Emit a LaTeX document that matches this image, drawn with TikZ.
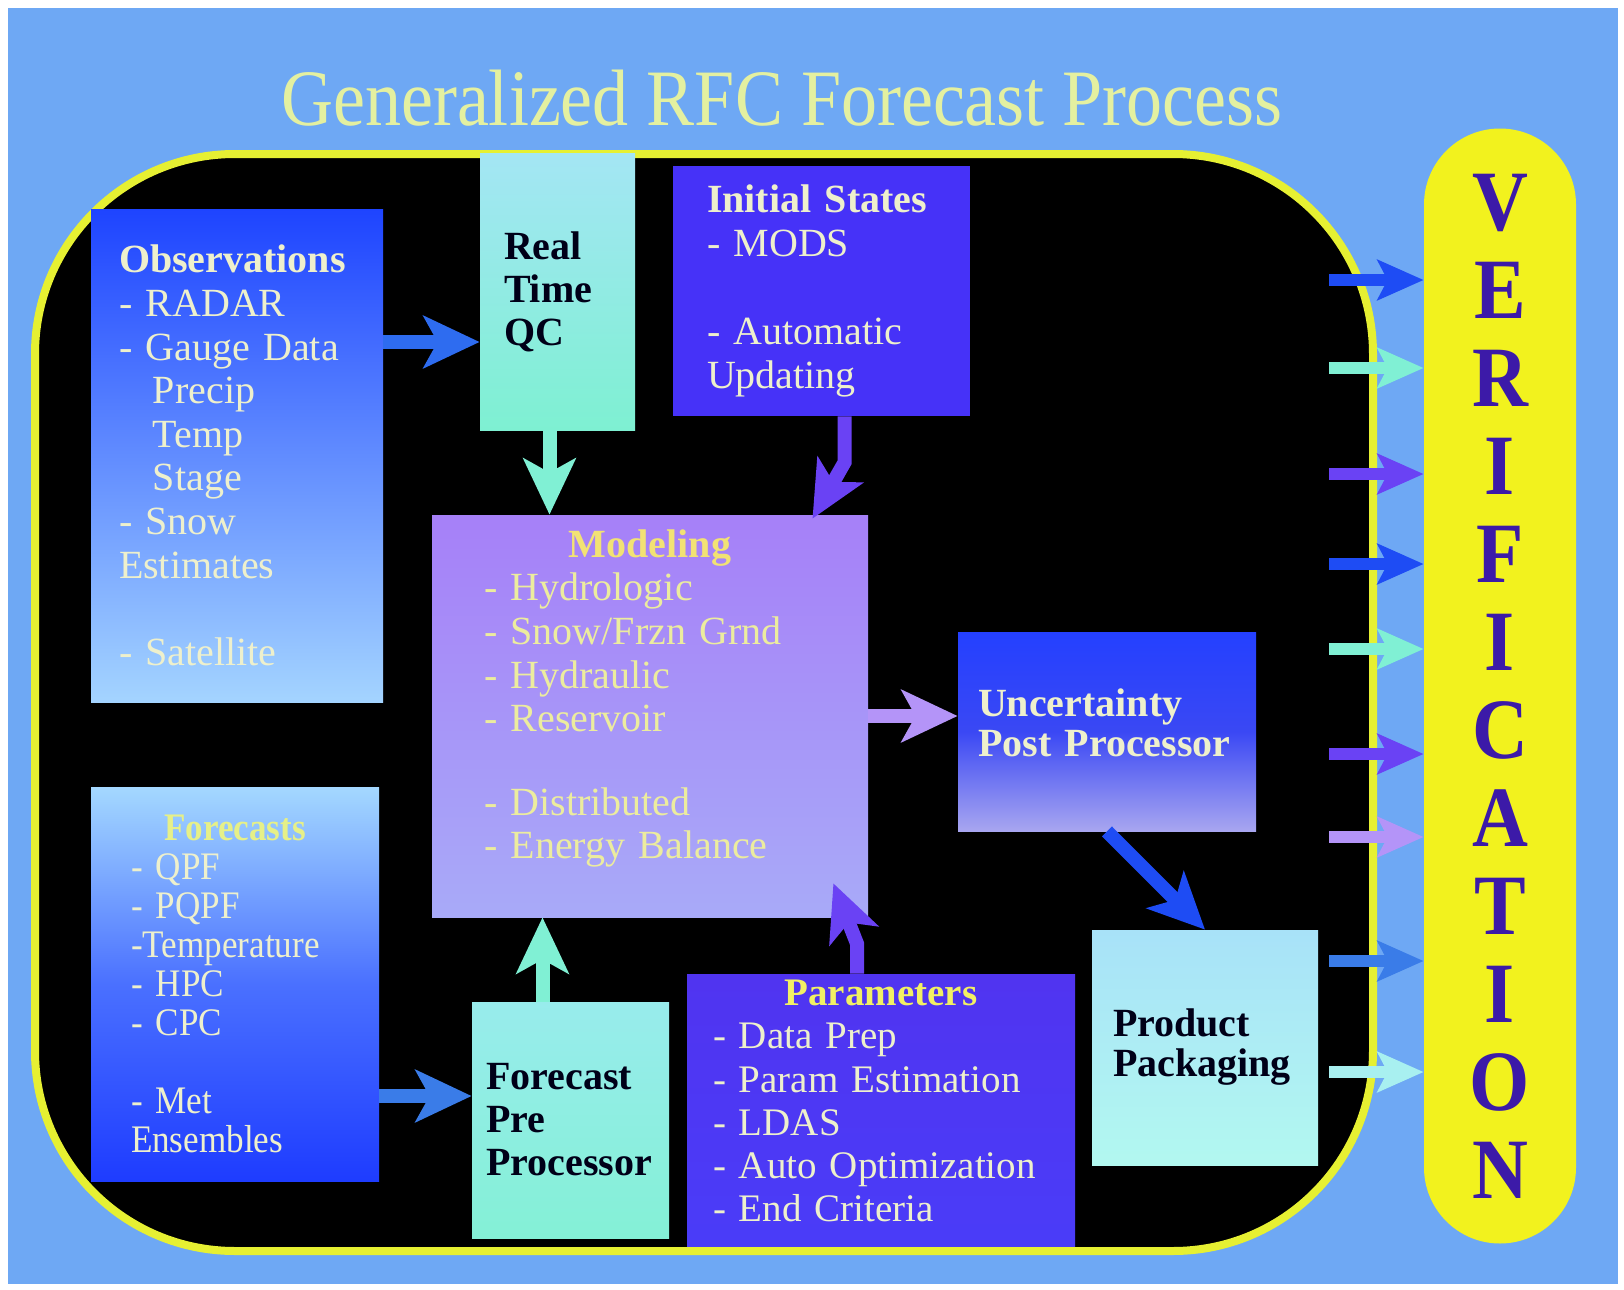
\documentclass[tikz,border=0pt]{standalone}
\usepackage{fontspec}
\setmainfont{Liberation Serif}
\newfontfamily\schmal[FakeStretch=0.9]{Liberation Serif}
\usetikzlibrary{arrows.meta}

\definecolor{wasser}{HTML}{6EA8F4}
\definecolor{rahmengelb}{HTML}{E6F032}
\definecolor{verifgelb}{HTML}{F2F21E}
\definecolor{verifviolett}{HTML}{3C1AA8}
\definecolor{titelfarbe}{HTML}{E4F0A0}
\definecolor{obsoben}{HTML}{1E44FF}
\definecolor{obsunten}{HTML}{A4D4FF}
\definecolor{qcoben}{HTML}{A4E6F4}
\definecolor{qcunten}{HTML}{7EF0D2}
\definecolor{initblau}{HTML}{4632F8}
\definecolor{modoben}{HTML}{A680F8}
\definecolor{modunten}{HTML}{A8AAF8}
\definecolor{uncoben}{HTML}{2440FF}
\definecolor{uncmitte}{HTML}{3A48F4}
\definecolor{uncunten}{HTML}{A8A6F0}
\definecolor{fcoben}{HTML}{A4D8FF}
\definecolor{fcmitte}{HTML}{4A70FF}
\definecolor{fcunten}{HTML}{1E3CFF}
\definecolor{preoben}{HTML}{98ECEC}
\definecolor{preunten}{HTML}{84F0D6}
\definecolor{paramoben}{HTML}{5034F0}
\definecolor{paramunten}{HTML}{4A3CF8}
\definecolor{prodoben}{HTML}{A8E2F8}
\definecolor{produnten}{HTML}{B2F8F0}
\definecolor{hellschrift}{HTML}{EEF0CC}
\definecolor{modschrift}{HTML}{ECEC9E}
\definecolor{modtitel}{HTML}{F2E274}
\definecolor{fctitel}{HTML}{E6F088}
\definecolor{paramtitel}{HTML}{F2F064}
\definecolor{fastschwarz}{HTML}{000018}
\definecolor{pblau}{HTML}{2E6CF0}
\definecolor{paqua}{HTML}{80F0D4}
\definecolor{pviolett}{HTML}{6A42F4}
\definecolor{plavendel}{HTML}{B494F8}
\definecolor{pdunkelblau}{HTML}{1E4CF4}
\definecolor{phellblau}{HTML}{3A7CE8}
\definecolor{phellcyan}{HTML}{A8F0F0}

\begin{document}
\begin{tikzpicture}[x=0.5pt, y=-0.5pt,
    kasten/.style={
      rectangle,
      inner ysep=0pt,
      align=left,
      font=\fontsize{20pt}{21.8pt}\selectfont},
    dunkel/.style={
      text=fastschwarz,
      font=\bfseries\fontsize{20pt}{21.5pt}\selectfont},
    pfeil/.style={
      line width=7pt,
      -{Stealth[length=28pt,width=26pt,inset=7pt]}},
    spitze/.style={
      line width=6pt,
      -{Stealth[length=23pt,width=20pt,inset=5pt]}}
    ]

  \useasboundingbox (0,0) rectangle (1624,1290);
  \fill[white] (0,0) rectangle (1624,1290);
  \fill[wasser] (8,8) rectangle (1618,1284);

  \node at (782,98) (titel) [text=titelfarbe, font=\schmal\fontsize{40pt}{40pt}\selectfont] {Generalized RFC Forecast Process};

  \draw[line width=4pt, draw=rahmengelb, fill=black, rounded corners=100pt] (35,154) rectangle (1373,1251);

  \node at (1500,686) (verif) [rectangle, rounded corners=38pt, fill=verifgelb, inner sep=0pt,
    minimum width=76pt, minimum height=557.5pt, align=center, text=verifviolett,
    font=\schmal\bfseries\fontsize{43pt}{44pt}\selectfont] {V\\E\\R\\I\\F\\I\\C\\A\\T\\I\\O\\N};

  \node at (237,455.5) (obs) [kasten, minimum width=146pt, minimum height=246.5pt,
    text width=118pt, inner xsep=14pt, top color=obsoben, bottom color=obsunten, text=hellschrift]
    {\textbf{Observations}\\- RADAR\\- Gauge Data\\\hspace*{17pt}Precip\\\hspace*{17pt}Temp\\\hspace*{17pt}Stage\\- Snow\\Estimates\\[21.8pt]- Satellite};

  \node at (557.5,291.5) (qc) [kasten, dunkel, minimum width=77.5pt, minimum height=138.5pt,
    text width=53.5pt, inner xsep=12pt, top color=qcoben, bottom color=qcunten]
    {Real\\Time\\QC};

  \node at (821.5,291) (init) [kasten, minimum width=148.5pt, minimum height=125pt,
    text width=114.5pt, inner xsep=17pt, fill=initblau, text=hellschrift,
    font=\fontsize{20pt}{22pt}\selectfont]
    {\textbf{Initial States}\\- MODS\\[22pt]- Automatic\\Updating};

  \node at (650,716) (model) [kasten, minimum width=218pt, minimum height=201pt,
    text width=166pt, inner xsep=26pt, top color=modoben, bottom color=modunten, text=modschrift]
    {\makebox[\linewidth]{\color{modtitel}\textbf{Modeling}}\\- Hydrologic\\- Snow/Frzn Grnd\\- Hydraulic\\- Reservoir\\[20pt]- Distributed\\- Energy Balance\\\mbox{}};

  \node at (1107,731.5) (unc) [kasten, minimum width=149pt, minimum height=99.5pt,
    text width=129pt, inner xsep=10pt, top color=uncoben, bottom color=uncunten, middle color=uncmitte,
    text=hellschrift, font=\bfseries\fontsize{20pt}{20pt}\selectfont]
    {Uncertainty\\Post Processor\\[-11pt]\mbox{}};

  \node at (235,984) (fc) [kasten, minimum width=144pt, minimum height=197pt,
    text width=104pt, inner xsep=20pt, top color=fcoben, bottom color=fcunten, middle color=fcmitte,
    text=hellschrift, font=\schmal\fontsize{19.5pt}{19.5pt}\selectfont]
    {\makebox[\linewidth]{\color{fctitel}\textbf{Forecasts}}\\- QPF\\- PQPF\\-Temperature\\- HPC\\- CPC\\[19.5pt]- Met\\Ensembles};

  \node at (570.5,1120) (pre) [kasten, dunkel, minimum width=98.5pt, minimum height=118pt,
    text width=84.5pt, inner xsep=7pt, top color=preoben, bottom color=preunten]
    {Forecast\\Pre\\Processor};

  \node at (881,1110) (param) [kasten, minimum width=194pt, minimum height=136pt,
    text width=168pt, inner xsep=13pt, top color=paramoben, bottom color=paramunten,
    text=hellschrift, font=\fontsize{19.5pt}{21.6pt}\selectfont]
    {\makebox[\linewidth]{\color{paramtitel}\textbf{Parameters}}\\- Data Prep\\- Param Estimation\\- LDAS\\- Auto Optimization\\- End Criteria\\[-12.6pt]\mbox{}};

  \node at (1205,1047.5) (prod) [kasten, dunkel, minimum width=113pt, minimum height=117.5pt,
    text width=92pt, inner xsep=10.5pt, top color=prodoben, bottom color=produnten,
    font=\bfseries\fontsize{20pt}{20pt}\selectfont]
    {Product\\Packaging};

  \draw [pfeil, pblau] ([yshift=56.75pt]obs.east) -- ([yshift=56.75pt]obs.east -| qc.west);
  \draw [pfeil, paqua] ([xshift=-4pt]qc.south) -- ([xshift=-4pt]qc.south |- model.north);
  \draw [pfeil, pviolett] ([xshift=11.5pt]init.south) -- ++(0,46) -- ([xshift=-4.5pt,yshift=-2pt]init.south |- model.north);
  \draw [pfeil, plavendel] (model.east) -- (model.east -| unc.west);
  \draw [pfeil, pdunkelblau] (unc.south) -- (prod.north);
  \draw [pfeil, phellblau] ([yshift=-56pt]fc.east) -- ([yshift=-56pt]fc.east -| pre.west);
  \draw [pfeil, paqua] ([xshift=-14pt]pre.north) -- ([xshift=-14pt]pre.north |- model.south);
  \draw [pfeil, pviolett] ([xshift=-12pt]param.north) -- ++(0,-30) -- ([xshift=-17.5pt,yshift=17pt]model.south east);

  \foreach \y/\farbe [count=\i] in {280/pdunkelblau, 368/paqua, 474/pviolett, 564/pdunkelblau, 649/paqua,
      754/pviolett, 837/plavendel, 961/phellblau, 1072/phellcyan}
  {
    \coordinate (q\i) at (1329,\y);
    \draw [spitze, \farbe] (q\i) -- (q\i -| verif.west);
  }

\end{tikzpicture}
\end{document}
